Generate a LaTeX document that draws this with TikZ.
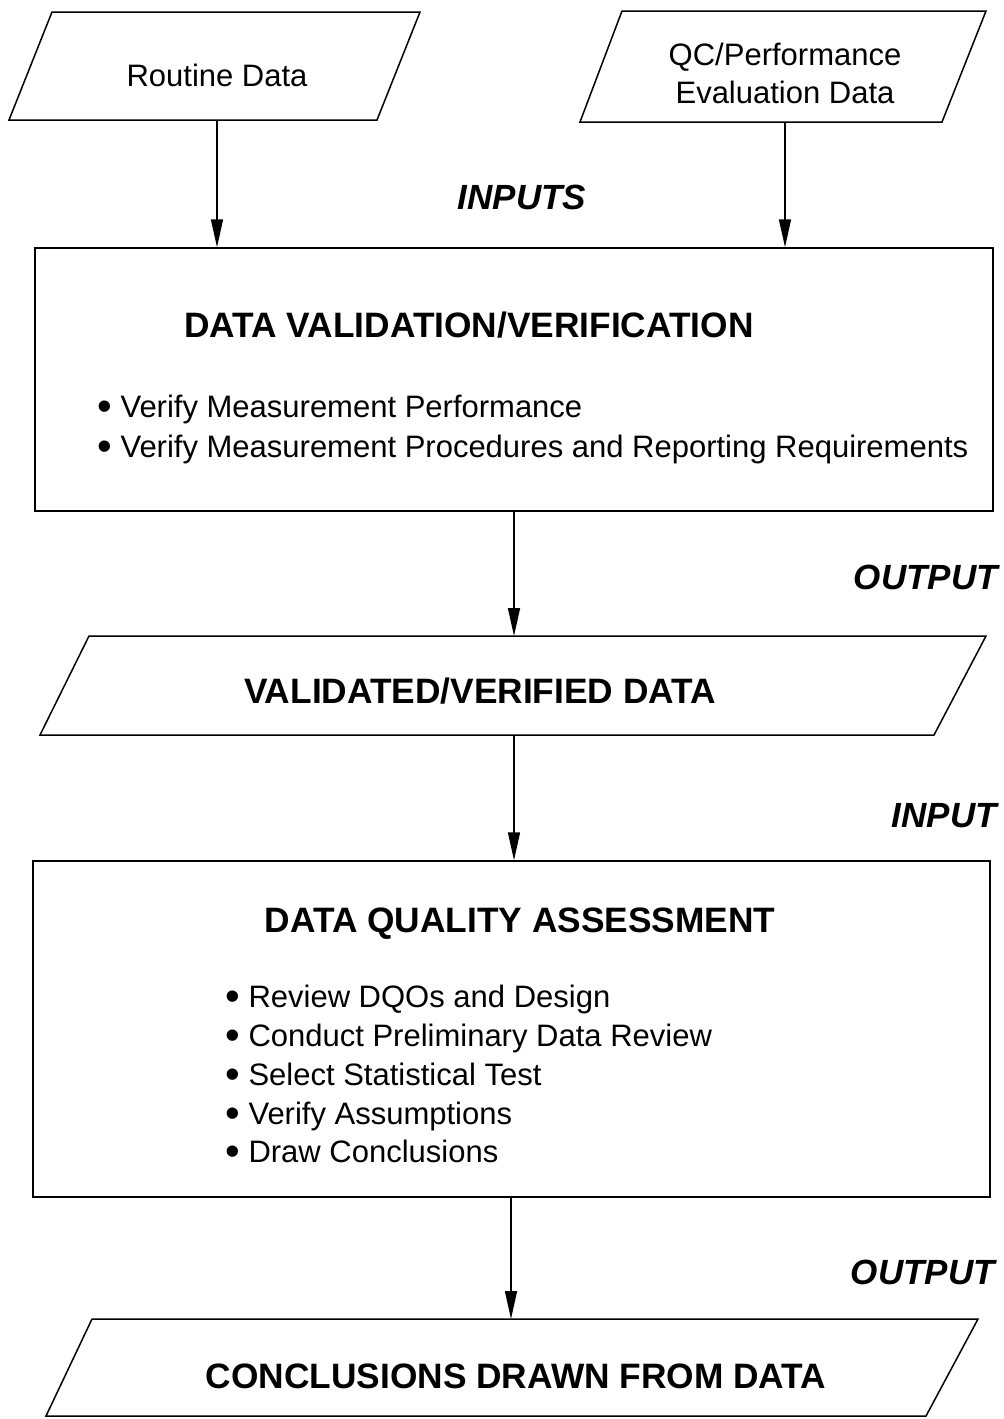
\documentclass[tikz,border=0pt]{standalone}
\usepackage{fontspec}
\setmainfont{Liberation Sans}
\usetikzlibrary{arrows.meta}
\newcommand{\bigbul}{\raisebox{-0.12em}{\scalebox{1.35}{•}}\hspace{0.28em}}
\tikzset{
  shapeline/.style={line width=1.5pt, line join=miter},
  conn/.style={line width=1.5pt, -{Triangle[length=28pt,width=12pt]}},
  plain/.style={inner sep=0pt, font=\fontsize{31}{37}\selectfont},
  ttl/.style={inner sep=0pt, font=\fontsize{35.3}{41}\selectfont\bfseries},
  lbl/.style={inner sep=0pt, font=\fontsize{35}{40}\selectfont\bfseries\itshape},
  boxrect/.style={draw, shapeline, rectangle, inner sep=0pt}
}
\begin{document}
\begin{tikzpicture}[x=1pt,y=-1pt]
\useasboundingbox (0,0) rectangle (1004,1419);
% --- input parallelograms ---
\draw[shapeline] (52,12) -- (420,12) -- (377,120) -- (9,120) -- cycle;
\node[plain, anchor=base] (rd) at (217,86) {Routine Data};
\coordinate (rdB) at (217,120);
\draw[shapeline] (622,11) -- (986,11) -- (942,122) -- (580,122) -- cycle;
\node[plain, anchor=base] (qc1) at (785,65) {QC/Performance};
\node[plain, anchor=base] (qc2) at (785,103) {Evaluation Data};
\coordinate (qcB) at (785,122);
\node[lbl, anchor=base] (inputs) at (522,209) {INPUTS};
% --- box 1 ---
\node[boxrect, minimum width=958pt, minimum height=263pt] (box1) at (514,379.5) {};
\node[ttl, anchor=base] (t1) at (469,337) {DATA VALIDATION/VERIFICATION};
\node[plain, anchor=base west] (b11) at (97,417) {\bigbul Verify Measurement Performance};
\node[plain, anchor=base west] (b12) at (97,457) {\bigbul Verify Measurement Procedures and Reporting Requirements};
\draw[conn] (rdB) -- (box1.north -| rdB);
\draw[conn] (qcB) -- (box1.north -| qcB);
% --- validated data ---
\node[lbl, anchor=base east] (out1) at (998,589) {OUTPUT};
\draw[shapeline] (89,636) -- (986,636) -- (934,735) -- (40,735) -- cycle;
\node[ttl, anchor=base] (vd) at (480,703) {VALIDATED/VERIFIED DATA};
\coordinate (vdT) at (514,636);
\coordinate (vdB) at (514,735);
\draw[conn] (box1.south -| vdT) -- (vdT);
% --- box 2 ---
\node[lbl, anchor=base east] (in2) at (997,827) {INPUT};
\node[boxrect, minimum width=957pt, minimum height=336pt] (box2) at (511.5,1029) {};
\draw[conn] (vdB) -- (box2.north -| vdB);
\node[ttl, anchor=base] (t2) at (520,932) {DATA QUALITY ASSESSMENT};
\node[plain, anchor=base west] (b21) at (225,1007) {\bigbul Review DQOs and Design};
\node[plain, anchor=base west] (b22) at (225,1046) {\bigbul Conduct Preliminary Data Review};
\node[plain, anchor=base west] (b23) at (225,1085) {\bigbul Select Statistical Test};
\node[plain, anchor=base west] (b24) at (225,1124) {\bigbul Verify Assumptions};
\node[plain, anchor=base west] (b25) at (225,1162) {\bigbul Draw Conclusions};
% --- conclusions ---
\node[lbl, anchor=base east] (out2) at (995,1284) {OUTPUT};
\draw[shapeline] (92,1319) -- (978,1319) -- (926,1416) -- (46,1416) -- cycle;
\node[ttl, anchor=base] (cd) at (516,1388) {CONCLUSIONS DRAWN FROM DATA};
\coordinate (cdT) at (511,1319);
\draw[conn] (box2.south -| cdT) -- (cdT);
\end{tikzpicture}
\end{document}
